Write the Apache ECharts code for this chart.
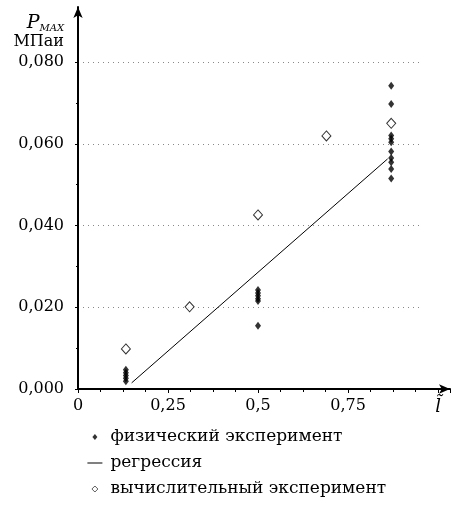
<!DOCTYPE html>
<html>
<head>
<meta charset="utf-8">
<script src="https://cdn.jsdelivr.net/npm/echarts@6/dist/echarts.min.js"></script>
<style>
  html, body { margin: 0; padding: 0; background: #fff; }
  #chart { width: 451px; height: 515px; }
</style>
</head>
<body>
<div id="chart"></div>
<script>
// Relative length l̃ (x) and maximum pressure P_MAX, MPa (y)
const physX = [
  0.133, 0.133, 0.133, 0.133, 0.133,
  0.5, 0.5, 0.5, 0.5, 0.5, 0.5,
  0.87, 0.87, 0.87, 0.87, 0.87, 0.87, 0.87, 0.87, 0.87, 0.87
];
const physY = [
  0.0047, 0.0040, 0.0033, 0.0026, 0.0019,
  0.0242, 0.0235, 0.0228, 0.0221, 0.0215, 0.0155,
  0.0742, 0.0697, 0.0620, 0.0612, 0.0604, 0.0581, 0.0565, 0.0555, 0.0538, 0.0515
];
const calcX = [0.133, 0.31, 0.5, 0.69, 0.87];
const calcY = [0.0098, 0.0201, 0.0426, 0.0619, 0.0650];
const regX = [0.149, 0.86];
const regY = [0.0015, 0.0563];

const xTickLabels = { 0: '0', 0.25: '0,25', 0.5: '0,5', 0.75: '0,75', 1: '{l|l\u0303}' };
const seriesNames = ['физический эксперимент', 'регрессия', 'вычислительный эксперимент'];

const FONT = 'DejaVu Serif';
const zip = (xs, ys) => xs.map((x, i) => [x, ys[i]]);

// legend icons drawn inside a fixed 15x7 box (the leading/trailing moves pin the box)
const ICON_SMALL_DIAMOND = 'path://M0,0 M7.5,0.5 L10,3.5 L7.5,6.5 L5,3.5 Z M15,7';
const ICON_DIAMOND = 'path://M0,0 M7.5,0.5 L10.5,3.5 L7.5,6.5 L4.5,3.5 Z M15,7';
const ICON_DASH = 'path://M0,0 M0,3 L15,3 L15,4 L0,4 Z M15,7';

const chart = echarts.init(document.getElementById('chart'), null, { renderer: 'canvas' });

chart.setOption({
  backgroundColor: '#fff',
  animation: false,
  textStyle: { fontFamily: FONT, color: '#000' },
  grid: [
    // plotting area with arrowed axes
    { left: 78, right: 1, top: 7, bottom: 126 },
    // area carrying the y ticks and dotted grid lines
    { left: 78, right: 29, top: 62, bottom: 126 }
  ],
  xAxis: [
    {
      gridIndex: 0, type: 'value', min: 0, max: 1.0333, interval: 0.25,
      axisLine: { show: true, symbol: ['none', 'arrow'], symbolSize: [7, 11], lineStyle: { color: '#000', width: 2 } },
      axisTick: { show: true, inside: false, length: 4, lineStyle: { color: '#000' } },
      minorTick: { show: true, splitNumber: 4, length: 3, lineStyle: { color: '#000' } },
      axisLabel: {
        show: true, margin: 9, showMaxLabel: false,
        fontFamily: FONT, fontSize: 16, color: '#000',
        formatter: v => { const k = Math.round(v * 100) / 100; return xTickLabels[k] !== undefined ? xTickLabels[k] : ''; },
        rich: { l: { fontFamily: FONT, fontStyle: 'italic', fontSize: 18, color: '#000' } }
      },
      splitLine: { show: false }
    },
    {
      gridIndex: 1, type: 'value', min: 0, max: 0.9556, show: false
    }
  ],
  yAxis: [
    {
      gridIndex: 0, type: 'value', min: 0, max: 0.09346,
      axisLine: { show: true, symbol: ['none', 'arrow'], symbolSize: [7, 11], lineStyle: { color: '#000', width: 2 } },
      axisTick: { show: false }, axisLabel: { show: false }, splitLine: { show: false }
    },
    {
      gridIndex: 1, type: 'value', min: 0, max: 0.08, interval: 0.02,
      axisLine: { show: false },
      axisTick: { show: true, inside: false, length: 3, lineStyle: { color: '#000' } },
      minorTick: { show: true, splitNumber: 2, length: 2, lineStyle: { color: '#000' } },
      axisLabel: {
        margin: 14, fontFamily: FONT, fontSize: 16, color: '#000',
        formatter: v => v.toFixed(3).replace('.', ',')
      },
      splitLine: { show: true, showMinLine: false, lineStyle: { color: '#888', type: [1, 4], width: 1 } },
      name: '{p|P}{s|MAX}\n{u|МПаи}',
      nameLocation: 'end', nameGap: 12,
      nameTextStyle: {
        align: 'right', verticalAlign: 'bottom', padding: [0, 14, 0, 0],
        rich: {
          p: { fontFamily: FONT, fontStyle: 'italic', fontSize: 19, color: '#000', lineHeight: 19 },
          s: { fontFamily: FONT, fontStyle: 'italic', fontSize: 10, color: '#000', verticalAlign: 'bottom', lineHeight: 19 },
          u: { fontFamily: FONT, fontSize: 16, color: '#000', lineHeight: 17 }
        }
      }
    }
  ],
  legend: {
    orient: 'vertical', left: 82, top: 423,
    itemWidth: 15, itemHeight: 7, itemGap: 8,
    textStyle: { fontFamily: FONT, fontSize: 17, color: '#000', lineHeight: 18, padding: [0, 0, 0, 3] },
    data: [
      { name: seriesNames[0], icon: ICON_SMALL_DIAMOND },
      { name: seriesNames[1], icon: ICON_DASH, itemStyle: { color: '#000' } },
      { name: seriesNames[2], icon: ICON_DIAMOND, itemStyle: { color: '#fff', borderColor: '#000', borderWidth: 0.8 } }
    ]
  },
  series: [
    {
      name: seriesNames[0], type: 'scatter', xAxisIndex: 0, yAxisIndex: 0,
      symbol: 'diamond', symbolSize: [6, 8],
      itemStyle: { color: '#000' },
      data: zip(physX, physY), z: 3
    },
    {
      name: seriesNames[1], type: 'line', xAxisIndex: 0, yAxisIndex: 0,
      symbol: 'none', showSymbol: false,
      lineStyle: { color: '#000', width: 1 },
      itemStyle: { color: '#000' },
      data: zip(regX, regY), z: 2
    },
    {
      name: seriesNames[2], type: 'scatter', xAxisIndex: 0, yAxisIndex: 0,
      symbol: 'diamond', symbolSize: [9, 10],
      itemStyle: { color: '#fff', borderColor: '#000', borderWidth: 1 },
      data: zip(calcX, calcY), z: 4
    }
  ]
});
</script>
</body>
</html>
